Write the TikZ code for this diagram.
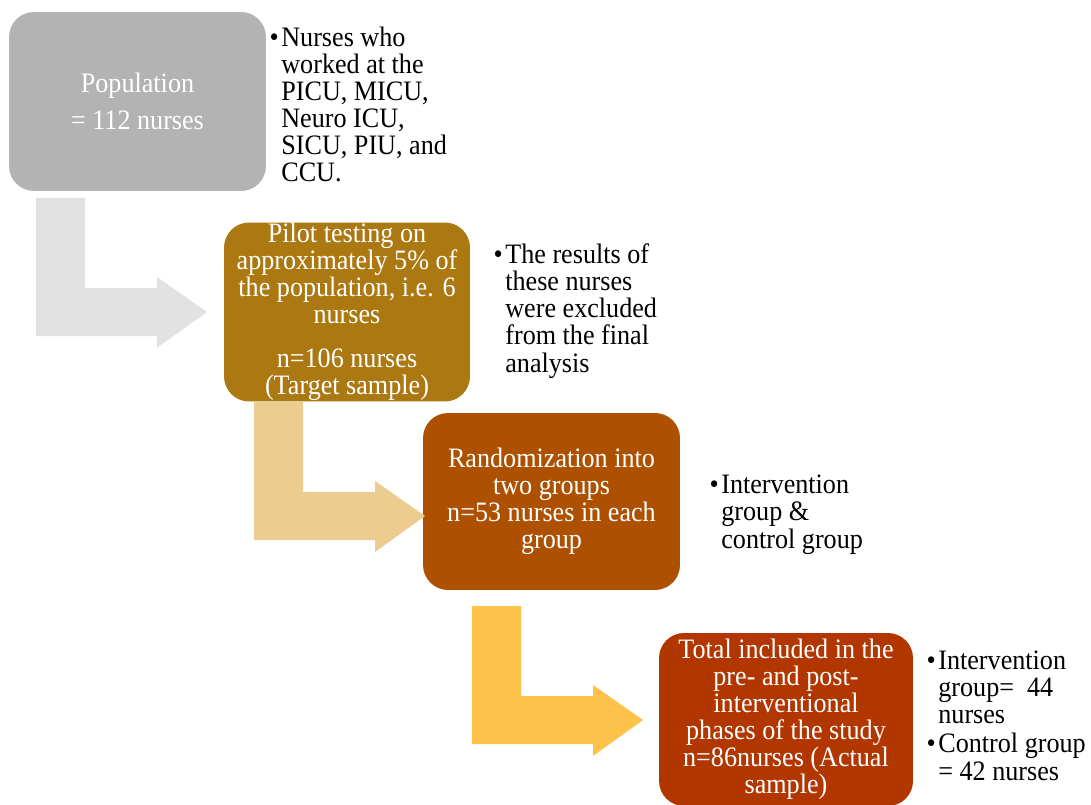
\documentclass[tikz,border=0pt]{standalone}
\usepackage{fontspec}
\setmainfont{Liberation Serif}[FakeStretch=0.93]

\tikzset{
    ndBox/.style={rectangle, rounded corners=0.5cm, inner sep=0pt, align=center, text={rgb,255:red,255;green,255;blue,255}, font=\fontsize{16pt}{15.4pt}\selectfont},
    ndNote/.style={inner sep=0pt, align=left, anchor=base west, text={rgb,255:red,0;green,0;blue,0}, font=\fontsize{16pt}{15.4pt}\selectfont},
    bentarrow/.pic={
        \fill (0,0) -- (49,0) -- (49,90) -- (121,90) -- (121,79) -- (171,114) -- (121,150) -- (121,138) -- (0,138) -- cycle;
    }
}
\newcommand{\blt}{\llap{\textbullet\hspace{1.5pt}}}

\begin{document}
\begin{tikzpicture}[x=0.02cm, y=-0.02cm]

    \clip (0,0) rectangle (1091,804);

    % boxes
    \node[ndBox, minimum width=5.14cm, minimum height=3.58cm, fill={rgb,255:red,179;green,179;blue,179}] (ndPop) at (137.5,101.5) {Population\\[5.7pt]= 112 nurses};
    \node[ndBox, minimum width=4.92cm, minimum height=3.58cm, fill={rgb,255:red,171;green,120;blue,17}] (ndPilot) at (347,312) {Pilot testing on\\approximately 5\% of\\the population, i.e. 6\\nurses\\[9.5pt]n=106 nurses\\(Target sample)};
    \node[ndBox, minimum width=5.14cm, minimum height=3.54cm, fill={rgb,255:red,173;green,81;blue,0}] (ndRandom) at (551.5,501.5) {Randomization into\\two groups\\n=53 nurses in each\\group};
    \node[ndBox, minimum width=5.08cm, minimum height=3.46cm, fill={rgb,255:red,177;green,54;blue,0}] (ndTotal) at (786,719.5) {Total included in the\\pre- and post-\\interventional\\phases of the study\\n=86nurses (Actual\\sample)};

    % notes (placed at the baseline of their last line)
    \node[ndNote] (ndPopNote) at (281,182) {\blt Nurses who\\worked at the\\PICU, MICU,\\Neuro ICU,\\SICU, PIU, and\\CCU.};
    \node[ndNote] (ndPilotNote) at (505,372) {\blt The results of\\these nurses\\were excluded\\from the final\\analysis};
    \node[ndNote] (ndRandomNote) at (721,548) {\blt Intervention\\group \&\\control group};
    \node[ndNote] (ndTotalNote) at (938,780) {\blt Intervention\\group=\ \ 44\\nurses\\[1.5pt]\blt Control group\\= 42 nurses};

    % bent arrows
    \pic[fill={rgb,255:red,226;green,226;blue,226}] at (36,198) {bentarrow};
    \pic[fill={rgb,255:red,237;green,205;blue,143}] at (254,402) {bentarrow};
    \pic[fill={rgb,255:red,254;green,194;blue,75}] at (472,606) {bentarrow};
\end{tikzpicture}
\end{document}
